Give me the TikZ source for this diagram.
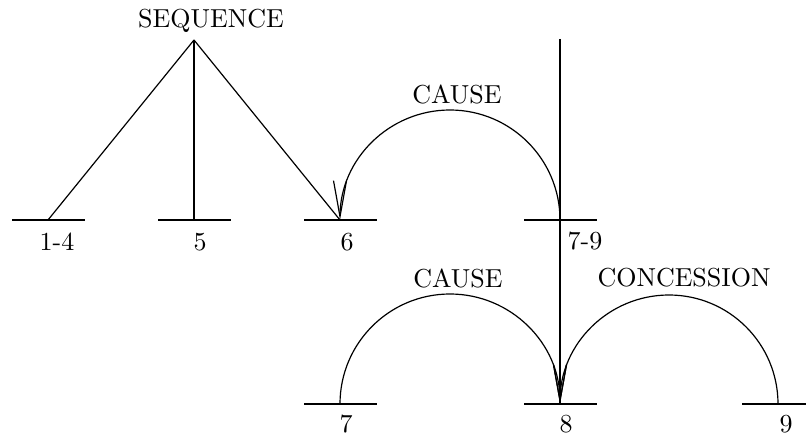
\documentclass[tikz,border=0pt]{standalone}
\usetikzlibrary{arrows.meta,bending}
\newcommand{\diaglbl}[1]{\scalebox{2.6}{\fontsize{10}{12}\selectfont #1}}
\tikzset{
  bar/.style={line width=2.6pt},
  thickline/.style={line width=2.6pt},
  thinline/.style={line width=1.2pt},
  relarc/.style={line width=1.2pt,-{Straight Barb[length=36pt,width=13pt,quick]}},
  lbl/.style={inner sep=0pt,anchor=center},
}
\begin{document}
\begin{tikzpicture}[x=1pt,y=-1pt]
\useasboundingbox (0,0) rectangle (806,436);
% attachment points
\coordinate (b14) at (48,220);
\coordinate (b5) at (194,220);
\coordinate (b6) at (340,220);
\coordinate (b79) at (560,220);
\coordinate (b7) at (340,404);
\coordinate (b8) at (560,404);
\coordinate (b9) at (778,404);
\coordinate (apex) at (194,40);
\coordinate (top79) at (560,39);
% bars
\foreach \c in {b14,b5,b6,b79,b7,b8}{
  \draw[bar] ([xshift=-36pt]\c) -- ([xshift=37pt]\c);
}
\draw[bar] ([xshift=-36pt]b9) -- (806,404);
% labels
\node[lbl] (seq) at (211,21) {\diaglbl{SEQUENCE}};
\node[lbl] (cause1) at (457,94) {\diaglbl{CAUSE}};
\node[lbl] (cause2) at (458,278) {\diaglbl{CAUSE}};
\node[lbl] (conc) at (684,278) {\diaglbl{CONCESSION}};
\node[lbl] (l14) at (57,242) {\diaglbl{1-4}};
\node[lbl] (l5) at (200,242) {\diaglbl{5}};
\node[lbl] (l6) at (347,242) {\diaglbl{6}};
\node[lbl] (l79) at (585,241) {\diaglbl{7-9}};
\node[lbl] (l7) at (346,424) {\diaglbl{7}};
\node[lbl] (l8) at (566,424) {\diaglbl{8}};
\node[lbl] (l9) at (786,424) {\diaglbl{9}};
% sequence span
\draw[thinline] (apex) -- (b14);
\draw[thickline] (apex) -- (b5);
\draw[thinline] (apex) -- (b6);
% vertical of 7-9
\draw[thickline] (top79) -- (b8);
% relation arcs
\draw[relarc] (b79) arc[start angle=0,end angle=180,radius=110pt];
\draw[relarc] (b7) arc[start angle=180,end angle=0,radius=110pt];
\draw[relarc] (b9) arc[start angle=0,end angle=180,radius=109pt];
\end{tikzpicture}
\end{document}
